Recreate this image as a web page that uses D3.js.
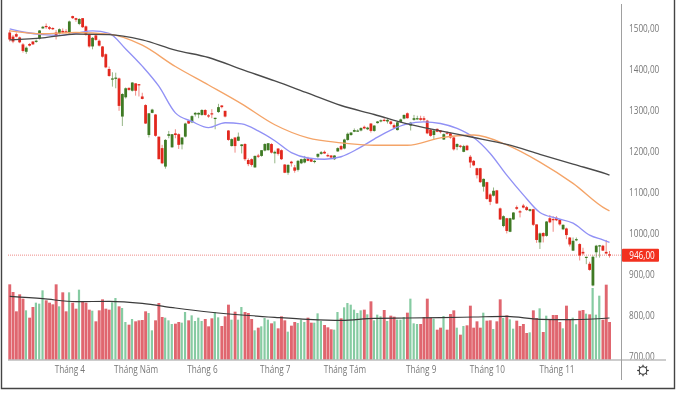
<!DOCTYPE html>
<html>
<head>
<meta charset="utf-8">
<script src="https://cdn.jsdelivr.net/npm/d3@7"></script>
<style>
  html, body { margin: 0; padding: 0; background: #fff; }
  svg { display: block; filter: blur(0.5px); }
  text { font-family: "Open Sans", sans-serif; }
</style>
</head>
<body>
<svg id="chart"></svg>
<script>
const opens = [1489,1479,1485,1477,1460,1442,1461,1467,1466,1474,1499,1505,1502,1500,1489,1487,1493,1492,1487,1529,1524,1510,1524,1504,1485,1455,1482,1469,1455,1436,1400,1376,1376,1377,1284,1331,1354,1347,1365,1363,1333,1312,1239,1293,1289,1235,1207,1162,1237,1209,1243,1241,1216,1235,1274,1270,1289,1289,1288,1300,1287,1292,1278,1295,1311,1298,1250,1212,1233,1225,1212,1217,1178,1180,1160,1189,1188,1201,1202,1217,1194,1206,1202,1167,1147,1174,1160,1154,1170,1172,1182,1180,1175,1186,1193,1198,1190,1189,1180,1199,1212,1206,1227,1239,1247,1249,1250,1259,1253,1267,1249,1268,1272,1276,1272,1272,1263,1251,1271,1279,1292,1262,1276,1277,1280,1280,1274,1252,1239,1254,1250,1228,1245,1243,1233,1210,1213,1198,1213,1186,1176,1158,1158,1113,1124,1094,1091,1104,1060,1017,1036,1003,1033,1063,1053,1067,1063,1054,1058,1021,977,1000,993,1036,1034,1037,1032,1009,1011,989,957,982,973,954,940,925,872,953,967,969,954,948];
const highs = [1495,1483,1489,1479,1463,1455,1463,1468,1472,1495,1505,1511,1505,1502,1495,1499,1499,1497,1518,1530,1525,1524,1524,1506,1487,1478,1485,1472,1456,1438,1406,1392,1391,1379,1341,1355,1355,1368,1365,1363,1342,1314,1292,1303,1290,1235,1215,1229,1249,1241,1253,1243,1233,1269,1276,1287,1295,1294,1302,1302,1290,1302,1281,1315,1312,1298,1251,1231,1233,1245,1217,1219,1182,1182,1189,1193,1202,1219,1219,1219,1201,1207,1204,1168,1168,1176,1166,1178,1181,1188,1186,1183,1178,1194,1200,1201,1194,1190,1190,1209,1215,1230,1245,1246,1255,1253,1258,1262,1259,1268,1263,1273,1277,1280,1278,1274,1267,1272,1279,1289,1294,1271,1288,1286,1286,1285,1276,1254,1251,1255,1251,1243,1248,1245,1234,1219,1215,1215,1215,1190,1178,1159,1159,1133,1125,1097,1111,1105,1062,1043,1037,1037,1051,1067,1056,1071,1066,1059,1059,1021,1001,1002,1029,1044,1041,1041,1033,1021,1013,990,989,989,975,964,942,930,945,971,971,971,983,956];
const lows = [1467,1463,1477,1463,1440,1437,1455,1459,1464,1472,1498,1498,1495,1495,1472,1484,1487,1487,1485,1522,1515,1507,1500,1481,1452,1448,1469,1455,1428,1402,1381,1357,1353,1298,1261,1328,1347,1345,1335,1333,1326,1266,1233,1292,1235,1180,1168,1157,1231,1208,1231,1205,1204,1233,1266,1268,1284,1280,1286,1286,1281,1280,1253,1293,1304,1282,1225,1211,1196,1224,1194,1176,1163,1162,1159,1183,1186,1199,1201,1194,1170,1189,1178,1146,1142,1162,1147,1150,1168,1170,1175,1173,1170,1183,1191,1193,1185,1181,1178,1198,1202,1204,1225,1237,1246,1247,1248,1253,1251,1245,1247,1267,1270,1272,1267,1263,1255,1250,1269,1277,1279,1250,1274,1276,1274,1272,1241,1235,1228,1246,1243,1227,1240,1230,1201,1202,1207,1197,1201,1159,1163,1133,1122,1101,1081,1068,1089,1071,1032,1014,999,1002,1032,1056,1038,1060,1054,1052,1017,976,961,977,991,1024,1003,1029,1018,1007,985,967,956,980,933,946,924,908,870,940,940,956,948,940];
const closes = [1472,1467,1479,1465,1444,1452,1457,1460,1469,1494,1503,1502,1498,1497,1480,1497,1489,1489,1516,1524,1520,1522,1502,1483,1455,1476,1471,1457,1430,1404,1383,1377,1379,1310,1339,1353,1349,1367,1347,1360,1327,1267,1292,1301,1237,1180,1170,1227,1241,1241,1239,1215,1233,1267,1267,1285,1293,1293,1300,1288,1285,1290,1281,1307,1307,1284,1227,1229,1212,1235,1216,1180,1168,1166,1188,1186,1202,1217,1219,1196,1198,1193,1180,1147,1166,1170,1152,1176,1180,1181,1176,1174,1176,1193,1197,1194,1187,1184,1189,1207,1204,1228,1242,1245,1251,1250,1256,1255,1257,1249,1262,1272,1275,1274,1276,1266,1257,1270,1277,1288,1280,1269,1280,1280,1276,1276,1243,1237,1250,1247,1246,1241,1243,1233,1204,1217,1211,1212,1202,1172,1165,1141,1124,1132,1083,1076,1103,1072,1033,1041,1005,1036,1050,1059,1050,1062,1056,1058,1020,983,999,992,1028,1026,1032,1031,1021,1020,995,972,981,985,945,950,942,910,942,969,970,957,950,946];
const volumes = [227,204,146,197,184,149,127,159,172,169,209,179,172,167,227,161,203,146,203,172,154,211,176,172,151,148,116,149,182,154,151,173,186,161,156,114,106,123,116,119,120,146,141,89,119,171,129,127,119,108,109,114,112,144,119,134,117,127,117,123,101,125,144,128,102,131,166,121,145,121,159,144,141,123,89,97,101,126,121,110,116,95,131,119,85,103,114,111,121,114,127,112,112,140,117,105,98,92,91,144,125,158,171,166,151,141,149,151,137,176,119,136,131,150,117,133,130,121,121,129,142,184,110,108,108,129,184,127,124,91,97,132,91,138,149,97,76,102,104,163,97,116,97,142,118,119,93,116,182,126,134,122,94,118,102,108,81,83,149,126,155,84,133,121,135,135,114,95,163,123,127,107,148,150,139,137,216,136,193,121,226,114];

const blueIndex = [0,5,10,15,20,25,30,35,40,45,50,55,60,65,70,75,80,85,90,95,100,105,110,115,120,125,130,135,140,145,150,155,160,165,170,175,179,181];
const blueValues = [1498,1489,1484,1482,1487,1493,1487,1449,1407,1358,1293,1272,1257,1269,1266,1249,1225,1196,1183,1180,1186,1205,1229,1251,1266,1271,1267,1255,1233,1194,1141,1093,1050,1036,1024,995,983,977];
const slowIndex = [0,10,20,30,40,50,60,70,80,90,100,110,120,130,140,150,160,170,180,181];
const orangeValues = [1493,1486,1489,1485,1458,1406,1361,1315,1264,1232,1220,1214,1214,1232,1239,1215,1173,1121,1058,1054];
const blackValues = [1471,1476,1485,1484,1471,1446,1428,1399,1371,1341,1311,1289,1266,1249,1233,1216,1192,1168,1144,1141];

const volMaIndex = [0,10,20,30,40,50,60,70,80,90,100,110,120,130,140,150,160,170,181];
const volMaValues = [191,184,175,176,170,156,144,135,128,122,119,125,126,127,129,131,122,121,126];

const monthIndex = [18,38,58,80,101,124,144,165];
const monthLabels = ["Tháng 4","Tháng Năm","Tháng 6","Tháng 7","Tháng Tám","Tháng 9","Tháng 10","Tháng 11"];
const priceTicks = [1500,1400,1300,1200,1100,1000,900,800,700];
const lastPrice = closes[closes.length - 1];

const width = 680, height = 394;
const plotRight = 622, baseY = 360;
const commaFormat = d3.formatLocale({decimal: ",", thousands: "", grouping: [3], currency: ["", ""]}).format(".2f");

const svg = d3.select("#chart").attr("width", width).attr("height", height);

const x = d3.scaleLinear().domain([0, 181]).range([9.7, 609.5]);
const y = d3.scaleLinear().domain([700, 1500]).range([356, 28]);
const yVol = d3.scaleLinear().domain([0, 270]).range([baseY, 270]);

const upBody = "#3f7a24", downBody = "#e2281e";
const upVol = "#86cba2", downVol = "#e0666f";
const isUp = i => closes[i] >= opens[i];

// the labels in the picture are narrower than any installed font
const narrow = sel => sel.each(function() {
  d3.select(this)
    .attr("textLength", this.getComputedTextLength() * 0.82)
    .attr("lengthAdjust", "spacingAndGlyphs");
});

// volume bars
svg.append("g")
  .selectAll("rect")
  .data(volumes)
  .join("rect")
    .attr("x", (d, i) => x(i) - 1.4)
    .attr("y", d => yVol(d))
    .attr("width", (d, i) => isUp(i) ? 2.2 : 2.9)
    .attr("height", d => baseY - yVol(d))
    .attr("fill", (d, i) => isUp(i) ? upVol : downVol);

// volume average
const volLine = d3.line()
  .x(d => x(d[0]))
  .y(d => yVol(d[1]))
  .curve(d3.curveMonotoneX);
svg.append("path")
  .attr("d", volLine(d3.zip(volMaIndex, volMaValues)))
  .attr("fill", "none")
  .attr("stroke", "#3a3a3a")
  .attr("stroke-width", 1.2);

// last price line
svg.append("line")
  .attr("x1", 8).attr("x2", plotRight)
  .attr("y1", y(lastPrice)).attr("y2", y(lastPrice))
  .attr("stroke", "#ee8a86")
  .attr("stroke-dasharray", "1 1");

// candles
const candles = svg.append("g");
candles.selectAll("line")
  .data(closes)
  .join("line")
    .attr("x1", (d, i) => x(i)).attr("x2", (d, i) => x(i))
    .attr("y1", (d, i) => y(highs[i]))
    .attr("y2", (d, i) => y(lows[i]))
    .attr("stroke", (d, i) => isUp(i) ? upBody : downBody)
    .attr("stroke-opacity", 0.55);
candles.selectAll("rect")
  .data(closes)
  .join("rect")
    .attr("x", (d, i) => x(i) - 1.4)
    .attr("y", (d, i) => y(Math.max(opens[i], closes[i])))
    .attr("width", 2.8)
    .attr("height", (d, i) => Math.max(1.2, Math.abs(y(opens[i]) - y(closes[i]))))
    .attr("fill", (d, i) => isUp(i) ? upBody : downBody);

// moving averages
const maLine = d3.line()
  .x(d => x(d[0]))
  .y(d => y(d[1]))
  .curve(d3.curveMonotoneX);
[[blueIndex, blueValues, "#9191f5"], [slowIndex, orangeValues, "#f4a468"], [slowIndex, blackValues, "#4a4a4a"]].forEach(s => {
  svg.append("path")
    .attr("d", maLine(d3.zip(s[0], s[1])))
    .attr("fill", "none")
    .attr("stroke", s[2])
    .attr("stroke-width", 1.35);
});

// axes
svg.append("g")
  .attr("transform", `translate(${plotRight},0)`)
  .call(d3.axisRight(y).tickValues(priceTicks).tickFormat(commaFormat).tickSize(0).tickPadding(7))
  .call(g => g.select(".domain").remove())
  .call(g => g.selectAll("text").attr("fill", "#777").attr("font-size", "10px").call(narrow));

svg.append("g")
  .attr("transform", `translate(0,366)`)
  .call(d3.axisBottom(x).tickValues(monthIndex).tickFormat((d, i) => monthLabels[i]).tickSize(0).tickPadding(0))
  .call(g => g.select(".domain").remove())
  .call(g => g.selectAll("text").attr("fill", "#777").attr("font-size", "10px").call(narrow));

// frame and separators
svg.append("line").attr("x1", 8).attr("x2", 666).attr("y1", baseY).attr("y2", baseY)
  .attr("stroke", "#bdbdbd").attr("stroke-width", 1.3);
svg.append("line").attr("x1", 621.5).attr("x2", 621.5).attr("y1", 4).attr("y2", 380)
  .attr("stroke", "#a0a0a0").attr("stroke-width", 1);
svg.append("path").attr("d", "M1.5,0V388.5H674.5V0")
  .attr("fill", "none").attr("stroke", "#444").attr("stroke-width", 1.4);

// last price label
svg.append("rect").attr("x", 622).attr("y", y(lastPrice) - 6.5).attr("width", 37).attr("height", 13)
  .attr("fill", "#f2311f").attr("rx", 1);
svg.append("text").attr("x", 642).attr("y", y(lastPrice)).attr("dy", "0.35em")
  .attr("text-anchor", "middle").attr("fill", "#fff").attr("font-size", "10px")
  .text(commaFormat(lastPrice))
  .call(narrow);

// settings gear
const gear = svg.append("g").attr("transform", "translate(643,370.5)").attr("stroke", "#333").attr("fill", "none");
gear.append("circle").attr("r", 3.8).attr("stroke-width", 1.1);
gear.selectAll("line")
  .data(d3.range(8))
  .join("line")
    .attr("x1", d => 3.8 * Math.cos(d * Math.PI / 4)).attr("y1", d => 3.8 * Math.sin(d * Math.PI / 4))
    .attr("x2", d => 5.8 * Math.cos(d * Math.PI / 4)).attr("y2", d => 5.8 * Math.sin(d * Math.PI / 4))
    .attr("stroke-width", 1.2);
</script>
</body>
</html>
